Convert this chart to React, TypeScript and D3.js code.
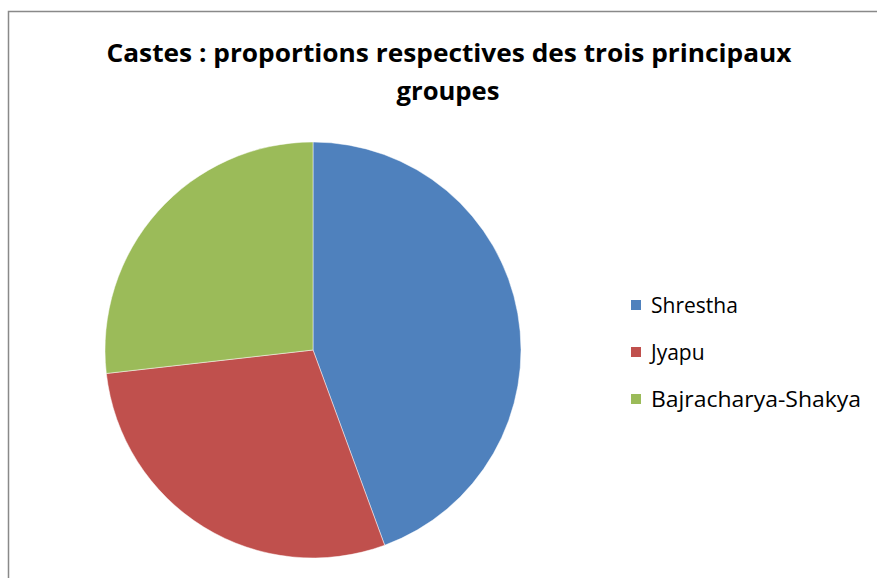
import React from "react";
import * as d3 from "d3";

const categories = ["Shrestha", "Jyapu", "Bajracharya-Shakya"];
const values = [44.4, 28.8, 26.8];
const colors = ["#4F81BD", "#C0504D", "#9BBB59"];
const titleLines = ["Castes : proportions respectives des trois principaux", "groupes"];

export default function App() {
  const W = 877, H = 578;
  const cx = 313, cy = 350, r = 208;
  const pie = d3.pie<number>().sort(null).value((d) => d)(values);
  const arc = d3.arc<d3.PieArcDatum<number>>().innerRadius(0).outerRadius(r);
  const legendY = d3.scalePoint<string>().domain(categories).range([305, 399]);
  const font = "'Open Sans', sans-serif";
  return (
    <svg width={W} height={H} style={{ position: "absolute", left: 0, top: 0, background: "#fff" }}>
      <rect x={8.5} y={11.5} width={W + 10} height={H + 10} fill="#fff" stroke="#898989" strokeWidth={1.5} />
      <text x={449} y={62} textAnchor="middle" fontFamily={font} fontWeight="bold" fontSize={25} textLength={685} lengthAdjust="spacingAndGlyphs" fill="#000">{titleLines[0]}</text>
      <text x={448} y={100} textAnchor="middle" fontFamily={font} fontWeight="bold" fontSize={25} textLength={103} lengthAdjust="spacingAndGlyphs" fill="#000">{titleLines[1]}</text>
      <g transform={`translate(${cx},${cy})`}>
        {pie.map((p, i) => (
          <path key={categories[i]} d={arc(p) || ""} fill={colors[i]} stroke="#ffffff" strokeOpacity={0.6} strokeWidth={0.8} />
        ))}
      </g>
      {categories.map((c, i) => (
        <g key={c}>
          <rect x={631} y={(legendY(c) as number) - 5} width={10} height={10} fill={colors[i]} />
          <text x={651} y={(legendY(c) as number) + 8} fontFamily={font} fontSize={21} textLength={c === "Bajracharya-Shakya" ? 210 : undefined} lengthAdjust="spacingAndGlyphs" fill="#000">{c}</text>
        </g>
      ))}
    </svg>
  );
}
